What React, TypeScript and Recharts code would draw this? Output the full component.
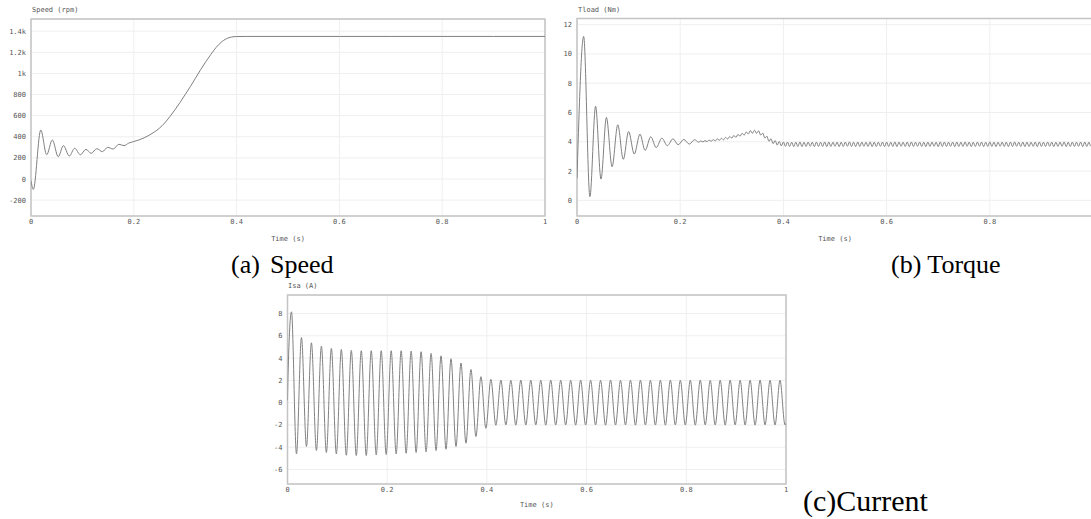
import { CartesianGrid, Line, LineChart, ReferenceArea, XAxis, YAxis } from 'recharts'

const MONO = '"DejaVu Sans Mono", monospace'
const SERIF = '"Liberation Serif", "Times New Roman", serif'
const LINE = '#808080'

const timeTicks = [0, 0.2, 0.4, 0.6, 0.8, 1]
// the torque panel is cut at the right page edge, its "1" is not shown
const torqueTimeTicks = [0, 0.2, 0.4, 0.6, 0.8]

// (a) speed, rpm
const speedTimes = [
  0, 0.0045, 0.019, 0.0305, 0.0415, 0.053, 0.063, 0.0745, 0.085, 0.096,
  0.107, 0.117, 0.128, 0.139, 0.149, 0.16, 0.171, 0.181, 0.19, 0.2,
  0.21, 0.22, 0.23, 0.24, 0.25, 0.26, 0.27, 0.28, 0.29, 0.3,
  0.31, 0.32, 0.33, 0.34, 0.35, 0.36, 0.37, 0.38, 0.39, 0.4,
  0.42, 0.5, 0.6, 0.7, 0.8, 0.9, 1,
]
const speedValues = [
  -15, -98, 464, 230, 370, 211, 316, 218, 291, 230,
  281, 243, 287, 259, 300, 284, 329, 316, 340, 355,
  370, 390, 415, 445, 482, 530, 590, 655, 725, 800,
  875, 955, 1035, 1110, 1180, 1245, 1295, 1328, 1344, 1349,
  1350, 1350, 1350, 1350, 1350, 1350, 1350,
]
const speedTicks = [-200, 0, 200, 400, 600, 800, 1000, 1200, 1400]

// (b) load torque, Nm
const torqueTimes = [
  0, 0.0129, 0.025, 0.036, 0.0465, 0.057, 0.068, 0.079, 0.0897, 0.1,
  0.111, 0.122, 0.132, 0.143, 0.1535, 0.1645, 0.175, 0.186, 0.196, 0.207,
  0.2175, 0.228, 0.236,
]
const torqueValues = [
  1.5, 11.2, 0.25, 6.43, 1.45, 5.66, 2.3, 5.16, 2.8, 4.7,
  3.16, 4.52, 3.41, 4.34, 3.6, 4.25, 3.73, 4.2, 3.8, 4.16,
  3.84, 4.14, 3.97,
]
// ripple samples from 0.24 s, every 4 ms
const TORQUE_RIPPLE_START = 0.24
const TORQUE_RIPPLE_STEP = 0.004
const torqueRipple = [
  4.06, 3.99, 4.08, 4.01, 4.12, 4.03, 4.15, 4.06, 4.2, 4.1,
  4.24, 4.13, 4.3, 4.19, 4.36, 4.25, 4.43, 4.3, 4.5, 4.38,
  4.58, 4.45, 4.67, 4.53, 4.76, 4.58, 4.79, 4.58, 4.75, 4.46,
  4.59, 4.25, 4.38, 4.03, 4.21, 3.87, 4.09, 3.77, 4.02, 3.72,
  3.99, 3.69, 3.98, 3.68, 3.97, 3.67, 3.98, 3.68, 3.99, 3.67,
  3.97, 3.68, 3.98, 3.69, 3.97, 3.67, 3.98, 3.68, 3.97, 3.68,
  3.99, 3.67, 3.98, 3.68, 3.97, 3.69, 3.98, 3.67, 3.97, 3.68,
  3.98, 3.69, 3.99, 3.68, 3.97, 3.67, 3.98, 3.68, 3.98, 3.69,
  3.97, 3.68, 3.99, 3.67, 3.98, 3.68, 3.97, 3.69, 3.98, 3.67,
  3.98, 3.68, 3.97, 3.68, 3.99, 3.67, 3.98, 3.69, 3.97, 3.68,
  3.98, 3.67, 3.99, 3.68, 3.97, 3.69, 3.98, 3.68, 3.97, 3.67,
  3.98, 3.68, 3.98, 3.69, 3.97, 3.67, 3.99, 3.68, 3.98, 3.68,
  3.97, 3.69, 3.98, 3.67, 3.98, 3.68, 3.97, 3.68, 3.99, 3.69,
  3.98, 3.67, 3.97, 3.68, 3.98, 3.69, 3.98, 3.67, 3.97, 3.68,
  3.99, 3.68, 3.98, 3.67, 3.97, 3.69, 3.98, 3.68, 3.97, 3.67,
  3.98, 3.68, 3.99, 3.69, 3.97, 3.68, 3.98, 3.67, 3.98, 3.68,
  3.97, 3.69, 3.98, 3.67, 3.99, 3.68, 3.97, 3.68, 3.98, 3.69,
  3.98, 3.67, 3.97, 3.68, 3.98, 3.69, 3.99, 3.67, 3.97, 3.68,
  3.98, 3.68, 3.97, 3.69, 3.98, 3.67, 3.98, 3.68, 3.97, 3.69,
  3.98,
]
const torqueTicks = [0, 2, 4, 6, 8, 10, 12]

// (c) stator current Isa, A: one positive and one negative peak per 20 ms cycle
const CURRENT_FIRST_PEAK = 0.008
const CURRENT_PERIOD = 0.02
const currentPeaks = [
  8.15, 5.85, 5.37, 5.07, 4.87, 4.78, 4.69, 4.66, 4.66, 4.66,
  4.66, 4.66, 4.63, 4.57, 4.42, 4.2, 3.94, 3.55, 2.98, 2.33,
  2.09, 2.03, 2.0, 2.02, 2.01, 2.0, 2.02, 2.01, 2.0, 2.02,
  2.01, 2.0, 2.02, 2.0, 2.01, 2.02, 2.0, 2.01, 2.02, 2.0,
  2.01, 2.02, 2.0, 2.01, 2.02, 2.0, 2.01, 2.02, 2.0, 2.01,
]
const currentTroughs = [
  -4.6, -3.94, -4.3, -4.48, -4.6, -4.72, -4.75, -4.75, -4.69, -4.66,
  -4.6, -4.54, -4.48, -4.42, -4.3, -4.18, -3.94, -3.64, -3.04, -2.3,
  -2.03, -2.0, -2.02, -2.01, -2.0, -2.02, -2.01, -2.0, -2.02, -2.01,
  -2.0, -2.02, -2.01, -2.0, -2.02, -2.0, -2.01, -2.02, -2.0, -2.01,
  -2.02, -2.0, -2.01, -2.02, -2.0, -2.01, -2.02, -2.0, -2.01, -2.0,
]
const currentTicks = [-6, -4, -2, 0, 2, 4, 6, 8]

const speedData = speedTimes.map((t, i) => ({ t, v: speedValues[i] }))

const torqueData = [
  ...torqueTimes.map((t, i) => ({ t, v: torqueValues[i] })),
  ...torqueRipple.map((v, i) => ({ t: TORQUE_RIPPLE_START + i * TORQUE_RIPPLE_STEP, v })),
]

const currentData = [{ t: 0, v: 0.2 }, { t: 0.001, v: 2.4 }]
currentPeaks.forEach((p, k) => {
  const t0 = CURRENT_FIRST_PEAK + k * CURRENT_PERIOD
  currentData.push({ t: t0, v: p })
  currentData.push({ t: t0 + CURRENT_PERIOD / 2, v: currentTroughs[k] })
})
currentData.push({ t: 1, v: -1.85 })

const tickStyle = { fontSize: 7, fontFamily: MONO, fill: '#555' }

type PanelProps = {
  data: { t: number; v: number }[]
  left: number
  top: number
  width: number
  height: number
  marginTop: number
  marginRight: number
  yWidth: number
  xHeight: number
  labelOffset: number
  xTicks: number[]
  yDomain: [number, number]
  yTicks: number[]
  yFormat?: (v: number) => string
}

function Panel(p: PanelProps) {
  return (
    <div style={{ position: 'absolute', left: p.left, top: p.top }}>
      <LineChart
        width={p.width}
        height={p.height}
        data={p.data}
        margin={{ top: p.marginTop, right: p.marginRight, bottom: 0, left: 0 }}
      >
        <CartesianGrid stroke="#efefef" />
        <XAxis
          dataKey="t"
          type="number"
          domain={[0, 1]}
          ticks={p.xTicks}
          allowDataOverflow
          height={p.xHeight}
          tickLine={false}
          axisLine={false}
          tickSize={0}
          tickMargin={3}
          tick={tickStyle}
          interval={0}
          label={{
            value: 'Time (s)',
            position: 'insideBottom',
            offset: p.labelOffset,
            style: { fontSize: 7, fontFamily: MONO, fill: '#555' },
          }}
        />
        <YAxis
          type="number"
          domain={p.yDomain}
          ticks={p.yTicks}
          allowDataOverflow
          width={p.yWidth}
          tickLine={false}
          axisLine={false}
          tickSize={0}
          tickMargin={5}
          tick={tickStyle}
          interval={0}
          tickFormatter={p.yFormat}
        />
        <ReferenceArea
          x1={0}
          x2={1}
          y1={p.yDomain[0]}
          y2={p.yDomain[1]}
          fill="none"
          stroke="#c4c4c4"
          strokeWidth={1.5}
        />
        <Line
          type="monotone"
          dataKey="v"
          stroke={LINE}
          strokeWidth={1}
          dot={false}
          isAnimationActive={false}
        />
      </LineChart>
    </div>
  )
}

const titleStyle = {
  position: 'absolute' as const,
  fontFamily: MONO,
  fontSize: 7,
  lineHeight: '8px',
  color: '#555',
  whiteSpace: 'nowrap' as const,
}

const captionStyle = {
  position: 'absolute' as const,
  fontFamily: SERIF,
  fontSize: 26,
  lineHeight: '28px',
  color: '#000',
  whiteSpace: 'nowrap' as const,
}

export default function App() {
  return (
    <div
      style={{
        position: 'absolute',
        left: 0,
        top: 0,
        width: 1091,
        height: 519,
        overflow: 'hidden',
        background: '#fff',
      }}
    >
      <Panel
        data={speedData}
        left={0}
        top={0}
        width={560}
        height={250}
        marginTop={19}
        marginRight={15}
        yWidth={31}
        xHeight={34}
        labelOffset={9}
        xTicks={timeTicks}
        yDomain={[-350, 1515]}
        yTicks={speedTicks}
        yFormat={(v) => (v >= 1000 ? `${v / 1000}k` : String(v))}
      />
      <div style={{ ...titleStyle, left: 32, top: 6 }}>Speed (rpm)</div>

      <Panel
        data={torqueData}
        left={560}
        top={0}
        width={540}
        height={250}
        marginTop={18.5}
        marginRight={7}
        yWidth={17}
        xHeight={34}
        labelOffset={9}
        xTicks={torqueTimeTicks}
        yDomain={[-1.07, 12.42]}
        yTicks={torqueTicks}
      />
      <div style={{ ...titleStyle, left: 578, top: 5.5 }}>Tload (Nm)</div>

      <Panel
        data={currentData}
        left={260}
        top={280}
        width={540}
        height={239}
        marginTop={15}
        marginRight={14}
        yWidth={27.5}
        xHeight={35}
        labelOffset={12.5}
        xTicks={timeTicks}
        yDomain={[-7.3, 9.66]}
        yTicks={currentTicks}
      />
      <div style={{ ...titleStyle, left: 288, top: 282 }}>Isa (A)</div>

      <div style={{ ...captionStyle, left: 231, top: 251 }}>(a)</div>
      <div style={{ ...captionStyle, left: 270, top: 251 }}>Speed</div>
      <div style={{ ...captionStyle, left: 891, top: 251 }}>(b) Torque</div>
      <div style={{ ...captionStyle, left: 803, top: 486, fontSize: 30, lineHeight: '30px' }}>
        (c)Current
      </div>
    </div>
  )
}
